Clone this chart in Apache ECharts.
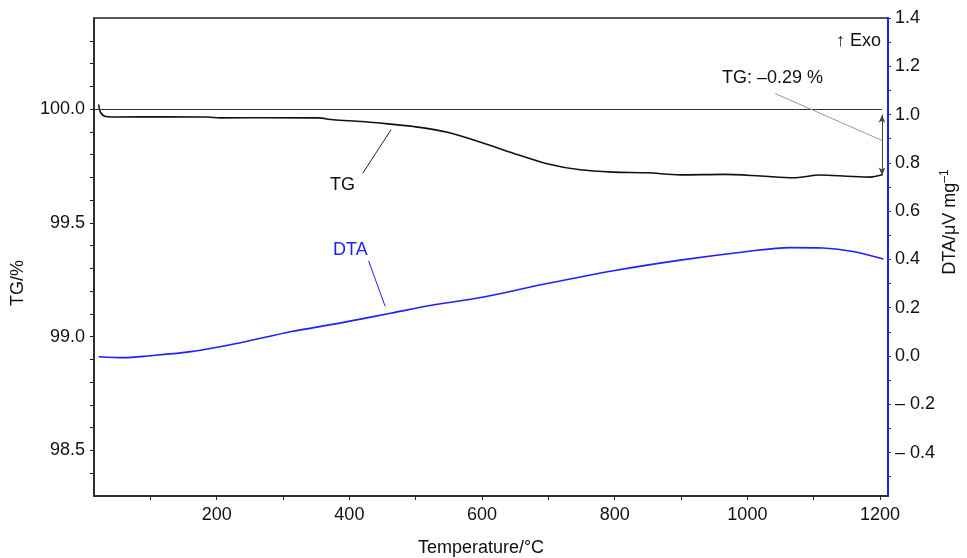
<!DOCTYPE html>
<html>
<head>
<meta charset="utf-8">
<script src="https://cdn.jsdelivr.net/npm/echarts@6/dist/echarts.min.js"></script>
<style>
  html, body { margin: 0; padding: 0; background: #fff; }
  #chart { width: 967px; height: 558px; }
</style>
</head>
<body>
<div id="chart"></div>
<script>
// TG curve, temperature (°C) and mass (%)
const tgTemp = [22, 25, 33, 48, 120, 186, 206, 280, 352, 376, 420, 458, 497, 548, 598, 647, 698, 748, 798, 849, 899, 964, 1020, 1069, 1110, 1150, 1185, 1203];
const tgMass = [100.02, 99.985, 99.967, 99.965, 99.966, 99.965, 99.961, 99.962, 99.961, 99.953, 99.945, 99.935, 99.923, 99.898, 99.854, 99.806, 99.760, 99.733, 99.723, 99.720, 99.711, 99.713, 99.706, 99.698, 99.710, 99.705, 99.701, 99.711];

// DTA curve, temperature (°C) and signal (µV/mg)
const dtaTemp = [22, 60, 96, 161, 236, 311, 387, 462, 530, 598, 698, 798, 899, 1000, 1064, 1114, 1159, 1205];
const dtaVal = [-0.003, -0.007, 0.000, 0.018, 0.055, 0.100, 0.137, 0.177, 0.213, 0.242, 0.300, 0.353, 0.397, 0.433, 0.449, 0.447, 0.433, 0.402];

// axis labels / ticks
const xLabels = [200, 400, 600, 800, 1000, 1200];
const xTicks = [100, 200, 300, 400, 500, 600, 700, 800, 900, 1000, 1100, 1200];
const tgLabels = [98.5, 99.0, 99.5, 100.0];
const tgTicks = [98.4, 98.5, 98.6, 98.7, 98.8, 98.9, 99.0, 99.1, 99.2, 99.3, 99.4, 99.5, 99.6, 99.7, 99.8, 99.9, 100.0, 100.1, 100.2, 100.3];
const dtaLabels = [-0.4, -0.2, 0.0, 0.2, 0.4, 0.6, 0.8, 1.0, 1.2, 1.4];
const dtaTicks = [-0.5, -0.4, -0.3, -0.2, -0.1, 0.0, 0.1, 0.2, 0.3, 0.4, 0.5, 0.6, 0.7, 0.8, 0.9, 1.0, 1.1, 1.2, 1.3, 1.4];

const FONT = 'Liberation Sans';
const BLUE = '#1f1fff';

const chart = echarts.init(document.getElementById('chart'));

function pairs(xs, ys) {
  return xs.map((x, i) => [x, ys[i]]);
}

const plainLine = { symbol: ['none', 'none'], silent: true, animation: false, label: { show: false } };

chart.setOption({
  animation: false,
  grid: { left: 94, right: 79, top: 18, bottom: 62, show: true, borderColor: '#222', borderWidth: 1.5 },
  xAxis: [{
    type: 'value', min: 15, max: 1212,
    axisLine: { onZero: false, lineStyle: { color: '#222', width: 1.5 } },
    axisTick: { customValues: xTicks, length: 4, lineStyle: { color: '#222' } },
    axisLabel: {
      customValues: xLabels, margin: 10, color: '#111', fontSize: 18, fontFamily: FONT,
      formatter: v => String(v)
    },
    splitLine: { show: false }
  }],
  yAxis: [{
    type: 'value', min: 98.3, max: 100.4, position: 'left',
    axisLine: { show: true, onZero: false, lineStyle: { color: '#222', width: 1.5 } },
    axisTick: { show: true, customValues: tgTicks, length: 4, lineStyle: { color: '#222' } },
    axisLabel: {
      customValues: tgLabels, margin: 9, color: '#111', fontSize: 18, fontFamily: FONT,
      formatter: v => v.toFixed(1)
    },
    splitLine: { show: false }
  }, {
    type: 'value', min: -0.58, max: 1.4, position: 'right',
    axisLine: { show: true, onZero: false, lineStyle: { color: BLUE, width: 2 } },
    axisTick: { show: true, customValues: dtaTicks, length: 3, lineStyle: { color: BLUE } },
    axisLabel: {
      customValues: dtaLabels, margin: 7, color: '#111', fontSize: 18, fontFamily: FONT,
      formatter: v => v < 0 ? '\u2013 ' + Math.abs(v).toFixed(1) : v.toFixed(1)
    },
    splitLine: { show: false }
  }],
  series: [{
    name: 'TG', type: 'line', xAxisIndex: 0, yAxisIndex: 0,
    data: pairs(tgTemp, tgMass), showSymbol: false, smooth: 0.3,
    lineStyle: { color: '#111', width: 1.6 },
    markLine: Object.assign({}, plainLine, {
      data: [
        [{ coord: [15, 100.0], lineStyle: { color: '#333', width: 1, type: 'solid' } }, { coord: [1203, 100.0] }],
        [{ coord: [420, 99.717], lineStyle: { color: '#222', width: 1, type: 'solid' } }, { coord: [463, 99.91] }],
        [{ coord: [1042, 100.068], lineStyle: { color: '#999', width: 1, type: 'solid' } }, { coord: [1203, 99.862] }],
        [{ coord: [1203, 99.975], symbol: 'arrow', symbolSize: [5, 8], lineStyle: { color: '#444', width: 1, type: 'solid' } },
         { coord: [1203, 99.708], symbol: 'arrow', symbolSize: [5, 8] }]
      ]
    })
  }, {
    name: 'DTA', type: 'line', xAxisIndex: 0, yAxisIndex: 1,
    data: pairs(dtaTemp, dtaVal), showSymbol: false, smooth: 0.3,
    lineStyle: { color: BLUE, width: 1.6 },
    markLine: Object.assign({}, plainLine, {
      data: [
        [{ coord: [429, 0.394], lineStyle: { color: BLUE, width: 1, type: 'solid' } }, { coord: [454, 0.205] }]
      ]
    })
  }],
  graphic: [
    { type: 'text', left: 330, top: 176, style: { text: 'TG', fill: '#111', fontSize: 18, fontFamily: FONT } },
    { type: 'text', left: 333, top: 241, style: { text: 'DTA', fill: BLUE, fontSize: 18, fontFamily: FONT } },
    { type: 'text', left: 722, top: 69, style: { text: 'TG: \u20130.29 %', fill: '#111', fontSize: 18, fontFamily: FONT } },
    { type: 'text', left: 836, top: 32, style: { text: '\u2191 Exo', fill: '#111', fontSize: 18, fontFamily: FONT } },
    { type: 'text', x: 18, y: 283, rotation: Math.PI / 2,
      style: { text: 'TG/%', fill: '#111', fontSize: 18, fontFamily: FONT, align: 'center', verticalAlign: 'middle' } },
    { type: 'text', x: 950, y: 222, rotation: Math.PI / 2,
      style: {
        text: '{a|DTA/\u03bcV mg}{s|\u20131}', align: 'center', verticalAlign: 'middle',
        rich: {
          a: { fill: '#111', fontSize: 18, fontFamily: FONT },
          s: { fill: '#111', fontSize: 12, fontFamily: FONT, padding: [0, 0, 10, 0] }
        }
      } },
    { type: 'text', x: 481, y: 548,
      style: { text: 'Temperature/\u00b0C', fill: '#111', fontSize: 18, fontFamily: FONT, align: 'center', verticalAlign: 'middle' } }
  ]
});
</script>
</body>
</html>
